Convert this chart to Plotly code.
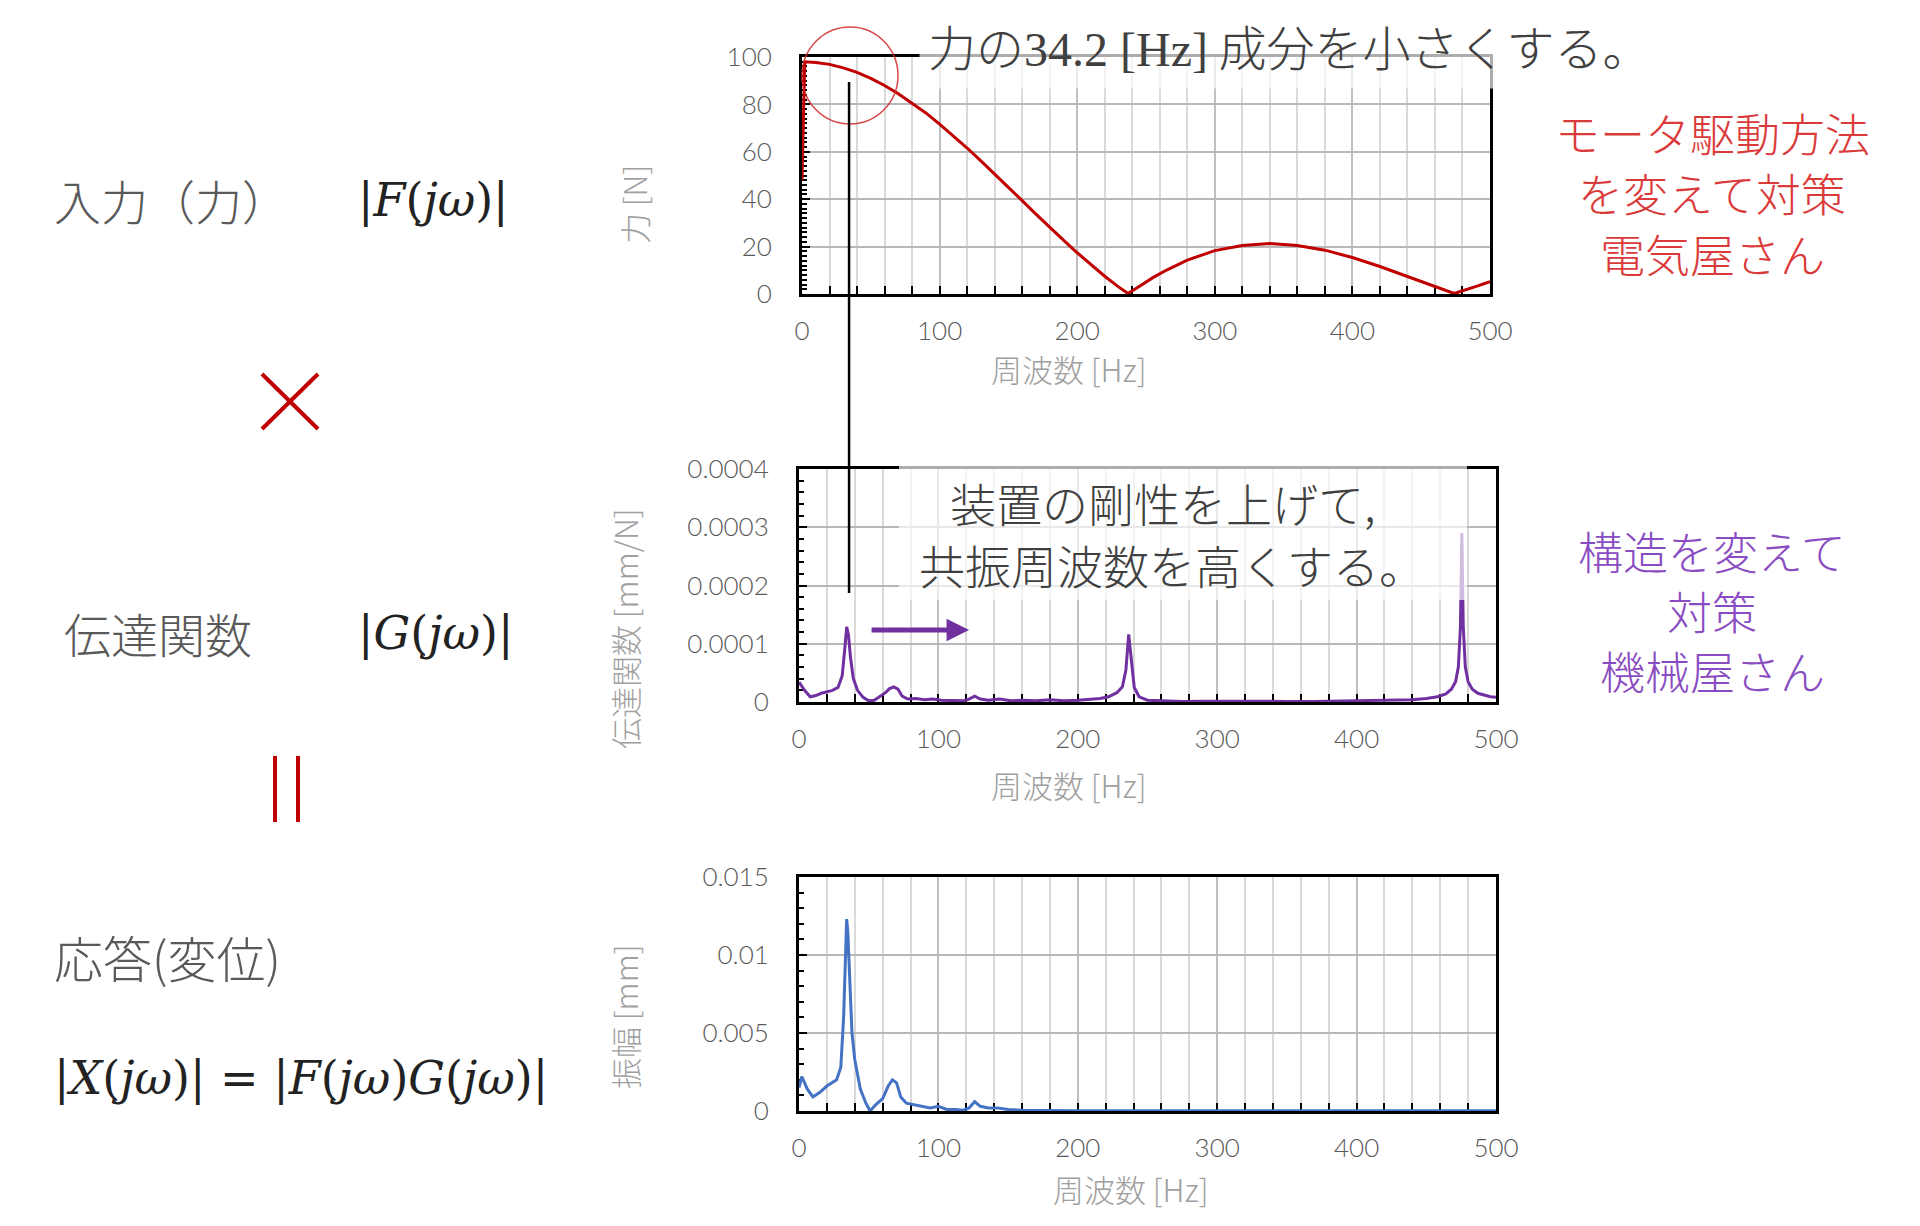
import plotly.graph_objects as go

# ---------------- data ----------------
freq_F = [0, 2, 10, 20, 30, 40, 50, 60, 70, 80, 90, 100, 110, 120, 130, 140, 150, 160, 170,
          180, 190, 200, 210, 220, 230, 237, 245, 255, 265, 280, 300, 320, 340, 360, 380,
          400, 420, 440, 460, 474, 490, 500]
force_N = [48, 98, 97.7, 96.9, 95.4, 93.5, 91.0, 88.0, 84.5, 80.6, 76.4, 71.7, 66.8, 61.6, 56.2,
           50.7, 45.1, 39.4, 33.7, 28.1, 22.7, 17.4, 12.3, 7.5, 3.0, 0.2, 3.2, 6.9, 10.1, 14.3,
           18.3, 20.5, 21.3, 20.5, 18.5, 15.4, 11.6, 7.4, 2.9, 0.2, 3.2, 5.2]

freq_G = [0, 4, 8, 12, 16, 20, 24, 28, 31, 33, 34.2, 35.5, 37, 39, 42, 46, 50, 54, 58, 62, 65,
          68, 71, 74, 78, 84, 90, 96, 102, 110, 118, 122, 126, 130, 136, 144, 152, 160, 170,
          180, 190, 200, 210, 216, 222, 228, 232, 234.5, 236.5, 238.5, 240.5, 244, 250, 260,
          275, 290, 310, 330, 350, 370, 390, 410, 425, 440, 450, 458, 464, 468, 471, 473,
          474.5, 475.5, 476.5, 478, 480, 483, 487, 492, 496, 500]
transfer_mm_per_N = [3.4e-5, 2.0e-5, 0.9e-5, 1.1e-5, 1.5e-5, 1.7e-5, 2.0e-5, 2.5e-5, 4.5e-5,
                     9.5e-5, 12.9e-5, 11.5e-5, 7.5e-5, 4.0e-5, 2.0e-5, 0.8e-5, 0.2e-5, 0.3e-5,
                     0.9e-5, 1.6e-5, 2.3e-5, 2.6e-5, 2.2e-5, 1.0e-5, 0.5e-5, 0.6e-5, 0.4e-5,
                     0.5e-5, 0.3e-5, 0.3e-5, 0.2e-5, 0.5e-5, 1.0e-5, 0.5e-5, 0.3e-5, 0.5e-5,
                     0.2e-5, 0.3e-5, 0.2e-5, 0.4e-5, 0.2e-5, 0.3e-5, 0.5e-5, 0.6e-5, 0.9e-5,
                     1.6e-5, 2.6e-5, 5.5e-5, 11.6e-5, 7.0e-5, 2.5e-5, 0.9e-5, 0.3e-5, 0.2e-5,
                     0.1e-5, 0.15e-5, 0.1e-5, 0.1e-5, 0.1e-5, 0.1e-5, 0.15e-5, 0.2e-5, 0.3e-5,
                     0.4e-5, 0.6e-5, 0.9e-5, 1.4e-5, 2.2e-5, 3.5e-5, 6.0e-5, 13.0e-5, 29.0e-5,
                     13.0e-5, 6.0e-5, 3.5e-5, 2.2e-5, 1.5e-5, 1.1e-5, 0.9e-5, 0.8e-5]

freq_X = [0, 2, 6, 10, 15, 20, 27, 30, 32, 33.5, 34.2, 35, 36.5, 38, 40, 44, 48, 51, 55, 60,
          64, 67, 70, 73, 77, 82, 88, 94, 100, 106, 112, 118, 122, 126, 130, 136, 142, 150,
          160, 175, 200, 250, 300, 350, 400, 450, 500]
disp_mm = [0.0015, 0.0022, 0.0014, 0.0009, 0.0012, 0.0016, 0.0020, 0.0028, 0.0060, 0.0105,
           0.0123, 0.0115, 0.0085, 0.0050, 0.0033, 0.0014, 0.0005, 0.0, 0.0004, 0.0008, 0.0016,
           0.0020, 0.0018, 0.0009, 0.0005, 0.0004, 0.0003, 0.0002, 0.0003, 0.0001, 0.0001,
           0.00005, 0.0002, 0.0006, 0.0003, 0.0002, 0.0002, 0.0001, 0.00005, 0.00003, 0.00002,
           0.00001, 0.00001, 0.00001, 0.00001, 0.00001, 0.00001]

x_ticks = [0, 100, 200, 300, 400, 500]
x_ticklabels = ["0", "100", "200", "300", "400", "500"]
y1_ticks = [0, 20, 40, 60, 80, 100]
y1_ticklabels = ["0", "20", "40", "60", "80", "100"]
y2_ticks = [0, 0.0001, 0.0002, 0.0003, 0.0004]
y2_ticklabels = ["0", "0.0001", "0.0002", "0.0003", "0.0004"]
y3_ticks = [0, 0.005, 0.01, 0.015]
y3_ticklabels = ["0", "0.005", "0.01", "0.015"]
resonance_hz = 34.2

electric_note = ["モータ駆動方法", "を変えて対策", "電気屋さん"]
mechanical_note = ["構造を変えて", "対策", "機械屋さん"]
stiffness_note = ["装置の剛性を上げて,", "共振周波数を高くする。"]

# ---------------- helpers ----------------
W, H = 1920, 1226


def px(x):
    return x / W


def py(y):
    return 1 - y / H


RED = "#C00000"
PURPLE = "#7030A0"
BLUE = "#4472C4"
TICKFONT = dict(family="Lato, Open Sans", size=26, color="#595959", weight=300)
TITLEFONT = dict(family="Noto Sans CJK JP", size=31, color="#A0A0A0", weight=300)
JP = "Noto Sans CJK JP"


def xaxis_cfg(domain, anchor):
    return dict(
        domain=domain, anchor=anchor, range=[0, 500], automargin=False,
        tickmode="array", tickvals=x_ticks, ticktext=x_ticklabels,
        ticks="inside", ticklen=8, tickwidth=2, tickcolor="black",
        showline=True, linecolor="black", linewidth=3, mirror=True,
        showgrid=True, gridcolor="#BFBFBF", gridwidth=2,
        minor=dict(tickmode="linear", tick0=0, dtick=20, ticks="inside", ticklen=8,
                   tickwidth=2, tickcolor="black", showgrid=True, gridcolor="#DADADA",
                   gridwidth=2),
        zeroline=False, tickfont=TICKFONT, ticklabelstandoff=12,
        layer="below traces", fixedrange=True,
    )


def yaxis_cfg(domain, anchor, rng, tv, tt, mdt):
    return dict(
        domain=domain, anchor=anchor, range=rng, automargin=False,
        tickmode="array", tickvals=tv, ticktext=tt,
        ticks="inside", ticklen=8, tickwidth=2, tickcolor="black",
        showline=True, linecolor="black", linewidth=3, mirror=True,
        showgrid=True, gridcolor="#B8B8B8", gridwidth=2,
        minor=dict(tickmode="linear", tick0=0, dtick=mdt, ticks="inside", ticklen=5,
                   tickwidth=2, tickcolor="black", showgrid=False),
        zeroline=False, tickfont=TICKFONT, ticklabelstandoff=22,
        layer="below traces", fixedrange=True,
    )


fig = go.Figure()
fig.add_trace(go.Scatter(x=freq_F, y=force_N, mode="lines", line=dict(color=RED, width=3),
                         xaxis="x", yaxis="y", showlegend=False, cliponaxis=False))
fig.add_trace(go.Scatter(x=freq_G, y=transfer_mm_per_N, mode="lines",
                         line=dict(color=PURPLE, width=3), xaxis="x2", yaxis="y2",
                         showlegend=False))
fig.add_trace(go.Scatter(x=freq_X, y=disp_mm, mode="lines", line=dict(color=BLUE, width=3),
                         xaxis="x3", yaxis="y3", showlegend=False))

layout = dict(
    width=W, height=H, autosize=False,
    margin=dict(l=0, r=0, t=0, b=0, pad=0, autoexpand=False),
    paper_bgcolor="white", plot_bgcolor="white", showlegend=False,
    xaxis=xaxis_cfg([px(802), px(1490)], "y"),
    yaxis=yaxis_cfg([py(294), py(57)], "x", [0, 100], y1_ticks, y1_ticklabels, 2),
    xaxis2=xaxis_cfg([px(799), px(1496)], "y2"),
    yaxis2=yaxis_cfg([py(702), py(469)], "x2", [0, 0.0004], y2_ticks, y2_ticklabels, 0.00002),
    xaxis3=xaxis_cfg([px(799), px(1496)], "y3"),
    yaxis3=yaxis_cfg([py(1111), py(877)], "x3", [0, 0.015], y3_ticks, y3_ticklabels, 0.001),
)
fig.update_layout(**layout)

ann = []
# axis titles
for txt, x, y in [("周波数 [Hz]", 1068, 368), ("周波数 [Hz]", 1068, 784), ("周波数 [Hz]", 1130, 1188)]:
    ann.append(dict(text=txt, x=px(x), y=py(y), xref="paper", yref="paper", showarrow=False,
                    font=TITLEFONT, xanchor="center", yanchor="middle"))
for txt, x, y in [("力 [N]", 633, 205), ("伝達関数 [mm/N]", 624, 629), ("振幅 [mm]", 624, 1017)]:
    ann.append(dict(text=txt, x=px(x), y=py(y), xref="paper", yref="paper", showarrow=False,
                    font=TITLEFONT, textangle=-90, xanchor="center", yanchor="middle"))

# callout (top) with translucent box
ann.append(dict(
    text='力の<span style="font-family:Liberation Serif">34.2 [Hz]</span> 成分を小さくする。',
    x=px(1300), y=py(45), xref="paper", yref="paper", showarrow=False,
    font=dict(family=JP, size=48, color="#404040", weight=300), width=744, align="left",
    bgcolor="rgba(255,255,255,0.68)", borderpad=8, xanchor="center", yanchor="middle"))

# callout (middle) text lines; its translucent box is a shape below
for line, x, y in zip(stiffness_note, [1163, 1172], [502, 564]):
    ann.append(dict(text=line, x=px(x), y=py(y), xref="paper", yref="paper", showarrow=False,
                    font=dict(family=JP, size=46, color="#404040", weight=300),
                    xanchor="center", yanchor="middle"))

# purple arrow
ann.append(dict(text="", x=122, y=0.0001236, ax=51, ay=0.0001236, xref="x2", yref="y2",
                axref="x2", ayref="y2", showarrow=True, arrowhead=2, arrowsize=0.9,
                arrowwidth=5, arrowcolor=PURPLE))

# left side labels
GRAYTXT = dict(family=JP, size=47, color="#595959", weight=300)
MATH = dict(family="DejaVu Serif", size=46, color="#222222")
left = [
    dict(text="入力（力）", x=px(52), y=py(200), font=GRAYTXT),
    dict(text="|<i>F</i>(<i>jω</i>)|", x=px(356), y=py(200), font=MATH),
    dict(text="伝達関数", x=px(62), y=py(633), font=GRAYTXT),
    dict(text="|<i>G</i>(<i>jω</i>)|", x=px(356), y=py(633), font=MATH),
    dict(text="応答(変位)", x=px(52), y=py(956), font=dict(GRAYTXT, size=49)),
    dict(text="|<i>X</i>(<i>jω</i>)| = |<i>F</i>(<i>jω</i>)<i>G</i>(<i>jω</i>)|",
         x=px(52), y=py(1078), font=MATH),
]
for a in left:
    a.update(xref="paper", yref="paper", showarrow=False, xanchor="left", yanchor="middle")
ann += left

# right side notes (one annotation per line)
for line, y in zip(electric_note, [133, 193, 253]):
    ann.append(dict(text=line, x=px(1712), y=py(y), xref="paper", yref="paper",
                    showarrow=False, font=dict(family=JP, size=45, color="#DA3A3A", weight=300),
                    xanchor="center", yanchor="middle"))
for line, y in zip(mechanical_note, [550, 610, 670]):
    ann.append(dict(text=line, x=px(1712), y=py(y), xref="paper", yref="paper",
                    showarrow=False, font=dict(family=JP, size=45, color="#8A4CC2", weight=300),
                    xanchor="center", yanchor="middle"))
fig.update_layout(annotations=ann)

# decorative shapes
shapes = [
    # translucent box behind the middle callout
    dict(type="rect", xref="paper", yref="paper", x0=px(899), x1=px(1467), y0=py(600),
         y1=py(466), fillcolor="rgba(255,255,255,0.68)", line=dict(width=0), layer="above"),
    # red circle around 34.2 Hz
    dict(type="circle", xref="paper", yref="paper", x0=px(802), x1=px(898), y0=py(124),
         y1=py(27), line=dict(color="rgba(210,40,40,0.85)", width=1.5)),
    # connecting line at the resonance frequency
    dict(type="line", xref="x", yref="paper", x0=resonance_hz, x1=resonance_hz,
         y0=py(82), y1=py(593), line=dict(color="black", width=2.5)),
    # red multiply sign
    dict(type="line", xref="paper", yref="paper", x0=px(262), x1=px(318), y0=py(374),
         y1=py(429), line=dict(color=RED, width=4)),
    dict(type="line", xref="paper", yref="paper", x0=px(262), x1=px(318), y0=py(429),
         y1=py(374), line=dict(color=RED, width=4)),
    # red equals (vertical)
    dict(type="line", xref="paper", yref="paper", x0=px(275), x1=px(275), y0=py(756),
         y1=py(822), line=dict(color=RED, width=4)),
    dict(type="line", xref="paper", yref="paper", x0=px(298), x1=px(298), y0=py(756),
         y1=py(822), line=dict(color=RED, width=4)),
]
fig.update_layout(shapes=shapes)

fig.write_html("out.html")
